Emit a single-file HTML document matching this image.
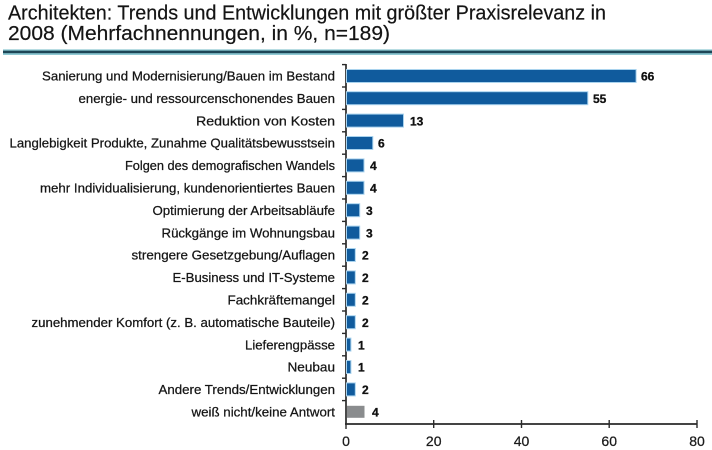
<!DOCTYPE html>
<html>
<head>
<meta charset="utf-8">
<style>
html,body{margin:0;padding:0;background:#fff;}
svg{display:block;}
</style>
</head>
<body>
<svg width="712" height="450" viewBox="0 0 712 450" xmlns="http://www.w3.org/2000/svg" font-family="'Liberation Sans', Arial, sans-serif">
<rect x="0" y="0" width="712" height="450" fill="#ffffff"/>
<!-- Title -->
<text x="8" y="19.5" font-size="20" fill="#141414" stroke="#141414" stroke-width="0.2" textLength="598" lengthAdjust="spacingAndGlyphs">Architekten: Trends und Entwicklungen mit größter Praxisrelevanz in</text>
<text x="8" y="40" font-size="20" fill="#141414" stroke="#141414" stroke-width="0.2" textLength="382" lengthAdjust="spacingAndGlyphs">2008 (Mehrfachnennungen,  in %, n=189)</text>
<!-- separator -->
<rect x="3" y="49.5" width="709" height="1.2" fill="#6fb8c4"/>
<rect x="3" y="50.7" width="709" height="2.6" fill="#1d4656"/>
<rect x="3" y="53.3" width="709" height="1.5" fill="#74bcc8"/>

<!-- axes -->
<line x1="346" y1="64" x2="346" y2="424" stroke="#2a2a2a" stroke-width="1.7"/>
<line x1="345" y1="424" x2="697" y2="424" stroke="#2a2a2a" stroke-width="1.7"/>
<!-- y ticks -->
<g stroke="#2a2a2a" stroke-width="1.4">
<line x1="342" y1="64.6" x2="346" y2="64.6"/>
<line x1="342" y1="87" x2="346" y2="87"/>
<line x1="342" y1="109.4" x2="346" y2="109.4"/>
<line x1="342" y1="131.8" x2="346" y2="131.8"/>
<line x1="342" y1="154.2" x2="346" y2="154.2"/>
<line x1="342" y1="176.6" x2="346" y2="176.6"/>
<line x1="342" y1="199" x2="346" y2="199"/>
<line x1="342" y1="221.4" x2="346" y2="221.4"/>
<line x1="342" y1="243.8" x2="346" y2="243.8"/>
<line x1="342" y1="266.2" x2="346" y2="266.2"/>
<line x1="342" y1="288.6" x2="346" y2="288.6"/>
<line x1="342" y1="311" x2="346" y2="311"/>
<line x1="342" y1="333.4" x2="346" y2="333.4"/>
<line x1="342" y1="355.8" x2="346" y2="355.8"/>
<line x1="342" y1="378.2" x2="346" y2="378.2"/>
<line x1="342" y1="400.6" x2="346" y2="400.6"/>
<!-- x ticks -->
<line x1="346" y1="424" x2="346" y2="429"/>
<line x1="433.7" y1="420" x2="433.7" y2="428"/>
<line x1="521.5" y1="420" x2="521.5" y2="428"/>
<line x1="609.2" y1="420" x2="609.2" y2="428"/>
<line x1="697" y1="420" x2="697" y2="428"/>
</g>
<!-- x tick labels -->
<g font-size="14" fill="#1a1a1a" stroke="#1a1a1a" stroke-width="0.25" text-anchor="middle">
<text x="346" y="446">0</text>
<text x="433.7" y="446">20</text>
<text x="521.5" y="446">40</text>
<text x="609.2" y="446">60</text>
<text x="697" y="446">80</text>
</g>

<!-- bars -->
<g fill="#a9d3ee">
<rect x="346" y="69" width="290.6" height="14"/>
<rect x="346" y="91.2" width="242.3" height="14"/>
<rect x="346" y="113.6" width="58" height="14"/>
<rect x="346" y="136" width="27.3" height="14"/>
<rect x="346" y="158.4" width="18.5" height="14"/>
<rect x="346" y="180.8" width="18.5" height="14"/>
<rect x="346" y="203.2" width="14.2" height="14"/>
<rect x="346" y="225.6" width="14.2" height="14"/>
<rect x="346" y="248" width="9.8" height="14"/>
<rect x="346" y="270.4" width="9.8" height="14"/>
<rect x="346" y="292.8" width="9.8" height="14"/>
<rect x="346" y="315.2" width="9.8" height="14"/>
<rect x="346" y="337.6" width="5.4" height="14"/>
<rect x="346" y="360" width="5.4" height="14"/>
<rect x="346" y="382.4" width="9.8" height="14"/>
</g>
<g fill="#105b9d">
<rect x="347" y="70" width="288.6" height="12"/>
<rect x="347" y="92.2" width="240.3" height="12"/>
<rect x="347" y="114.6" width="56" height="12"/>
<rect x="347" y="137" width="25.3" height="12"/>
<rect x="347" y="159.4" width="16.5" height="12"/>
<rect x="347" y="181.8" width="16.5" height="12"/>
<rect x="347" y="204.2" width="12.2" height="12"/>
<rect x="347" y="226.6" width="12.2" height="12"/>
<rect x="347" y="249" width="7.8" height="12"/>
<rect x="347" y="271.4" width="7.8" height="12"/>
<rect x="347" y="293.8" width="7.8" height="12"/>
<rect x="347" y="316.2" width="7.8" height="12"/>
<rect x="347" y="338.6" width="3.4" height="12"/>
<rect x="347" y="361" width="3.4" height="12"/>
<rect x="347" y="383.4" width="7.8" height="12"/>
</g>
<rect x="347" y="405.8" width="17.5" height="12" fill="#8a8c8e"/>

<!-- value labels -->
<g font-size="12" font-weight="bold" fill="#111" stroke="#111" stroke-width="0.3">
<text x="641" y="80.5">66</text>
<text x="593" y="102.9">55</text>
<text x="410" y="125.3">13</text>
<text x="378" y="147.7">6</text>
<text x="370" y="170.1">4</text>
<text x="370" y="192.5">4</text>
<text x="366" y="214.9">3</text>
<text x="366" y="237.3">3</text>
<text x="362" y="259.7">2</text>
<text x="362" y="282.1">2</text>
<text x="362" y="304.5">2</text>
<text x="362" y="326.9">2</text>
<text x="358" y="349.3">1</text>
<text x="358" y="371.7">1</text>
<text x="362" y="394.1">2</text>
<text x="372" y="416.5">4</text>
</g>

<!-- category labels -->
<g font-size="13" fill="#151515" stroke="#151515" stroke-width="0.25" text-anchor="start">
<text x="42" y="80.5" textLength="293" lengthAdjust="spacingAndGlyphs">Sanierung und Modernisierung/Bauen im Bestand</text>
<text x="78.5" y="102.9" textLength="256.5" lengthAdjust="spacingAndGlyphs">energie- und ressourcenschonendes Bauen</text>
<text x="196" y="125.3" textLength="139" lengthAdjust="spacingAndGlyphs">Reduktion von Kosten</text>
<text x="9.5" y="147.7" textLength="325.5" lengthAdjust="spacingAndGlyphs">Langlebigkeit Produkte, Zunahme Qualitätsbewusstsein</text>
<text x="125" y="170.1" textLength="210" lengthAdjust="spacingAndGlyphs">Folgen des demografischen Wandels</text>
<text x="40" y="192.5" textLength="295" lengthAdjust="spacingAndGlyphs">mehr Individualisierung, kundenorientiertes Bauen</text>
<text x="152.5" y="214.9" textLength="182.5" lengthAdjust="spacingAndGlyphs">Optimierung der Arbeitsabläufe</text>
<text x="161.5" y="237.3" textLength="173.5" lengthAdjust="spacingAndGlyphs">Rückgänge im Wohnungsbau</text>
<text x="131.5" y="259.7" textLength="203.5" lengthAdjust="spacingAndGlyphs">strengere Gesetzgebung/Auflagen</text>
<text x="172.5" y="282.1" textLength="162.5" lengthAdjust="spacingAndGlyphs">E-Business und IT-Systeme</text>
<text x="227.5" y="304.5" textLength="107.5" lengthAdjust="spacingAndGlyphs">Fachkräftemangel</text>
<text x="31.5" y="326.9" textLength="303.5" lengthAdjust="spacingAndGlyphs">zunehmender Komfort (z. B. automatische Bauteile)</text>
<text x="245" y="349.3" textLength="90" lengthAdjust="spacingAndGlyphs">Lieferengpässe</text>
<text x="287.5" y="371.7" textLength="47.5" lengthAdjust="spacingAndGlyphs">Neubau</text>
<text x="158.5" y="394.1" textLength="176.5" lengthAdjust="spacingAndGlyphs">Andere Trends/Entwicklungen</text>
<text x="191.5" y="416.5" textLength="143.5" lengthAdjust="spacingAndGlyphs">weiß nicht/keine Antwort</text>
</g>
</svg>
</body>
</html>
